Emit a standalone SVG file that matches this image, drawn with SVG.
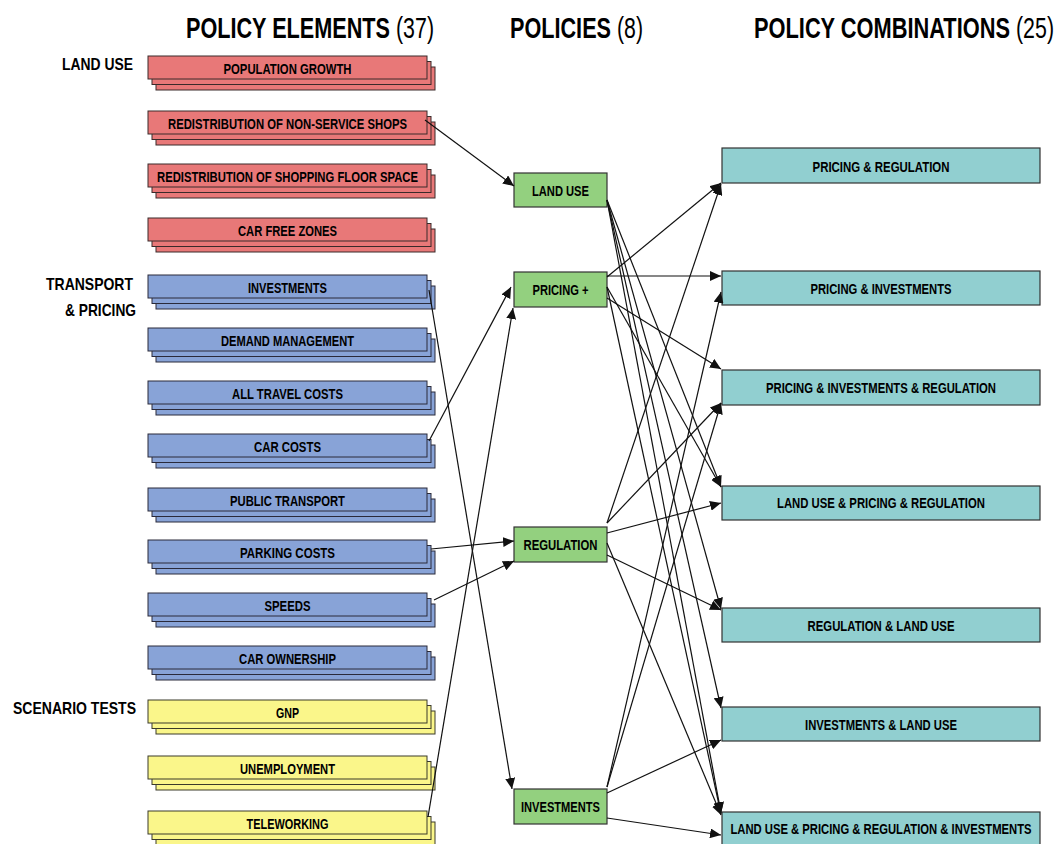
<svg xmlns="http://www.w3.org/2000/svg" width="1057" height="844" viewBox="0 0 1057 844">
<defs>
<style>
text{font-family:"Liberation Sans Narrow","Liberation Sans",Arial,sans-serif;font-weight:bold;fill:#000}
.hd{font-size:29px}
.rg{font-weight:normal}
.cat{font-size:17px;text-anchor:end}
.lb{font-size:15px;text-anchor:middle}
.red{fill:#E87878;stroke:#3a2a2a;stroke-width:1}
.blue{fill:#88A3D7;stroke:#2a2a3a;stroke-width:1}
.yel{fill:#FAF68A;stroke:#3a3a2a;stroke-width:1}
.grn{fill:#93D07F;stroke:#333;stroke-width:1.2}
.teal{fill:#91CFD0;stroke:#333;stroke-width:1.2}
.edge{stroke:#111;stroke-width:1.2;fill:none;marker-end:url(#ah)}
</style>
<marker id="ah" markerUnits="userSpaceOnUse" markerWidth="12" markerHeight="10" refX="11" refY="5" orient="auto">
<path d="M0,0 L11,5 L0,10 z" fill="#111"/>
</marker>
<g id="stk">
<rect x="156" y="11" width="279" height="23"/>
<rect x="152" y="5.5" width="279" height="23"/>
<rect x="148" y="0" width="279" height="23"/>
</g>
</defs>
<rect width="1057" height="844" fill="#fff"/>

<g id="headers">
<text class="hd" x="186" y="38" textLength="204" lengthAdjust="spacingAndGlyphs">POLICY ELEMENTS</text>
<text class="hd rg" x="396" y="38" textLength="38" lengthAdjust="spacingAndGlyphs">(37)</text>
<text class="hd" x="510" y="38" textLength="101" lengthAdjust="spacingAndGlyphs">POLICIES</text>
<text class="hd rg" x="617" y="38" textLength="26" lengthAdjust="spacingAndGlyphs">(8)</text>
<text class="hd" x="754" y="38" textLength="256" lengthAdjust="spacingAndGlyphs">POLICY COMBINATIONS</text>
<text class="hd rg" x="1016" y="38" textLength="38" lengthAdjust="spacingAndGlyphs">(25)</text>
</g>

<g id="categories">
<text class="cat" x="133" y="70" textLength="71" lengthAdjust="spacingAndGlyphs">LAND USE</text>
<text class="cat" x="133" y="290" textLength="87" lengthAdjust="spacingAndGlyphs">TRANSPORT</text>
<text class="cat" x="136" y="316" textLength="71" lengthAdjust="spacingAndGlyphs">&amp; PRICING</text>
<text class="cat" x="136" y="714" textLength="123" lengthAdjust="spacingAndGlyphs">SCENARIO TESTS</text>
</g>

<g id="el-population-growth"><use href="#stk" class="red" y="56"/><text class="lb" x="287.5" y="74" textLength="128" lengthAdjust="spacingAndGlyphs">POPULATION GROWTH</text></g>
<g id="el-non-service-shops"><use href="#stk" class="red" y="111"/><text class="lb" x="287.5" y="129" textLength="239" lengthAdjust="spacingAndGlyphs">REDISTRIBUTION OF NON-SERVICE SHOPS</text></g>
<g id="el-shopping-floor"><use href="#stk" class="red" y="164"/><text class="lb" x="287.5" y="182" textLength="261" lengthAdjust="spacingAndGlyphs">REDISTRIBUTION OF SHOPPING FLOOR SPACE</text></g>
<g id="el-car-free-zones"><use href="#stk" class="red" y="218"/><text class="lb" x="287.5" y="236" textLength="99" lengthAdjust="spacingAndGlyphs">CAR FREE ZONES</text></g>

<g id="el-investments"><use href="#stk" class="blue" y="275"/><text class="lb" x="287.5" y="293" textLength="79" lengthAdjust="spacingAndGlyphs">INVESTMENTS</text></g>
<g id="el-demand-management"><use href="#stk" class="blue" y="328"/><text class="lb" x="287.5" y="346" textLength="133" lengthAdjust="spacingAndGlyphs">DEMAND MANAGEMENT</text></g>
<g id="el-all-travel-costs"><use href="#stk" class="blue" y="381"/><text class="lb" x="287.5" y="399" textLength="111" lengthAdjust="spacingAndGlyphs">ALL TRAVEL COSTS</text></g>
<g id="el-car-costs"><use href="#stk" class="blue" y="434"/><text class="lb" x="287.5" y="452" textLength="67" lengthAdjust="spacingAndGlyphs">CAR COSTS</text></g>
<g id="el-public-transport"><use href="#stk" class="blue" y="488"/><text class="lb" x="287.5" y="506" textLength="115" lengthAdjust="spacingAndGlyphs">PUBLIC TRANSPORT</text></g>
<g id="el-parking-costs"><use href="#stk" class="blue" y="540"/><text class="lb" x="287.5" y="558" textLength="95" lengthAdjust="spacingAndGlyphs">PARKING COSTS</text></g>
<g id="el-speeds"><use href="#stk" class="blue" y="593"/><text class="lb" x="287.5" y="611" textLength="46" lengthAdjust="spacingAndGlyphs">SPEEDS</text></g>
<g id="el-car-ownership"><use href="#stk" class="blue" y="646"/><text class="lb" x="287.5" y="664" textLength="97" lengthAdjust="spacingAndGlyphs">CAR OWNERSHIP</text></g>

<g id="el-gnp"><use href="#stk" class="yel" y="700"/><text class="lb" x="287.5" y="718" textLength="23" lengthAdjust="spacingAndGlyphs">GNP</text></g>
<g id="el-unemployment"><use href="#stk" class="yel" y="756"/><text class="lb" x="287.5" y="774" textLength="95" lengthAdjust="spacingAndGlyphs">UNEMPLOYMENT</text></g>
<g id="el-teleworking"><use href="#stk" class="yel" y="811"/><text class="lb" x="287.5" y="829" textLength="82" lengthAdjust="spacingAndGlyphs">TELEWORKING</text></g>

<g id="pol-land-use"><rect class="grn" x="514" y="173" width="93" height="34"/><text class="lb" x="560.5" y="196" textLength="57" lengthAdjust="spacingAndGlyphs">LAND USE</text></g>
<g id="pol-pricing"><rect class="grn" x="514" y="272" width="93" height="35"/><text class="lb" x="560.5" y="295" textLength="56" lengthAdjust="spacingAndGlyphs">PRICING +</text></g>
<g id="pol-regulation"><rect class="grn" x="514" y="527" width="93" height="35"/><text class="lb" x="560.5" y="550" textLength="74" lengthAdjust="spacingAndGlyphs">REGULATION</text></g>
<g id="pol-investments"><rect class="grn" x="514" y="789" width="93" height="35"/><text class="lb" x="560.5" y="812" textLength="79" lengthAdjust="spacingAndGlyphs">INVESTMENTS</text></g>

<g id="comb-p-r"><rect class="teal" x="722" y="148" width="318" height="35"/><text class="lb" x="881" y="172" textLength="137" lengthAdjust="spacingAndGlyphs">PRICING &amp; REGULATION</text></g>
<g id="comb-p-i"><rect class="teal" x="722" y="271" width="318" height="34"/><text class="lb" x="881" y="294" textLength="141" lengthAdjust="spacingAndGlyphs">PRICING &amp; INVESTMENTS</text></g>
<g id="comb-p-i-r"><rect class="teal" x="722" y="370" width="318" height="35"/><text class="lb" x="881" y="393" textLength="230" lengthAdjust="spacingAndGlyphs">PRICING &amp; INVESTMENTS &amp; REGULATION</text></g>
<g id="comb-lu-p-r"><rect class="teal" x="722" y="486" width="318" height="34"/><text class="lb" x="881" y="508" textLength="208" lengthAdjust="spacingAndGlyphs">LAND USE &amp; PRICING &amp; REGULATION</text></g>
<g id="comb-r-lu"><rect class="teal" x="722" y="608" width="318" height="34"/><text class="lb" x="881" y="631" textLength="147" lengthAdjust="spacingAndGlyphs">REGULATION &amp; LAND USE</text></g>
<g id="comb-i-lu"><rect class="teal" x="722" y="707" width="318" height="34"/><text class="lb" x="881" y="730" textLength="152" lengthAdjust="spacingAndGlyphs">INVESTMENTS &amp; LAND USE</text></g>
<g id="comb-lu-p-r-i"><rect class="teal" x="722" y="812" width="318" height="35"/><text class="lb" x="881" y="834" textLength="301" lengthAdjust="spacingAndGlyphs">LAND USE &amp; PRICING &amp; REGULATION &amp; INVESTMENTS</text></g>

<g id="connectors">
<line class="edge" x1="425" y1="120" x2="514" y2="186"/>
<line class="edge" x1="429" y1="290" x2="512" y2="789"/>
<line class="edge" x1="429" y1="441" x2="511" y2="287"/>
<line class="edge" x1="428" y1="817" x2="513" y2="308"/>
<line class="edge" x1="431" y1="549" x2="514" y2="541"/>
<line class="edge" x1="434" y1="600" x2="514" y2="561"/>

<line class="edge" x1="607" y1="200" x2="721" y2="487"/>
<line class="edge" x1="607" y1="200" x2="721" y2="609"/>
<line class="edge" x1="607" y1="200" x2="721" y2="708"/>
<line class="edge" x1="607" y1="200" x2="721" y2="813"/>

<line class="edge" x1="607" y1="277" x2="721" y2="183"/>
<line class="edge" x1="607" y1="276" x2="721" y2="276"/>
<line class="edge" x1="607" y1="298" x2="721" y2="369"/>
<line class="edge" x1="607" y1="287" x2="721" y2="487"/>
<line class="edge" x1="607" y1="287" x2="721" y2="814"/>

<line class="edge" x1="607" y1="523" x2="721" y2="184"/>
<line class="edge" x1="607" y1="523" x2="721" y2="403"/>
<line class="edge" x1="607" y1="533" x2="721" y2="503"/>
<line class="edge" x1="607" y1="543" x2="721" y2="815"/>
<line class="edge" x1="607" y1="555" x2="721" y2="610"/>

<line class="edge" x1="607" y1="787" x2="721" y2="292"/>
<line class="edge" x1="607" y1="787" x2="721" y2="403"/>
<line class="edge" x1="607" y1="793" x2="721" y2="740"/>
<line class="edge" x1="607" y1="818" x2="721" y2="835"/>
</g>
</svg>
